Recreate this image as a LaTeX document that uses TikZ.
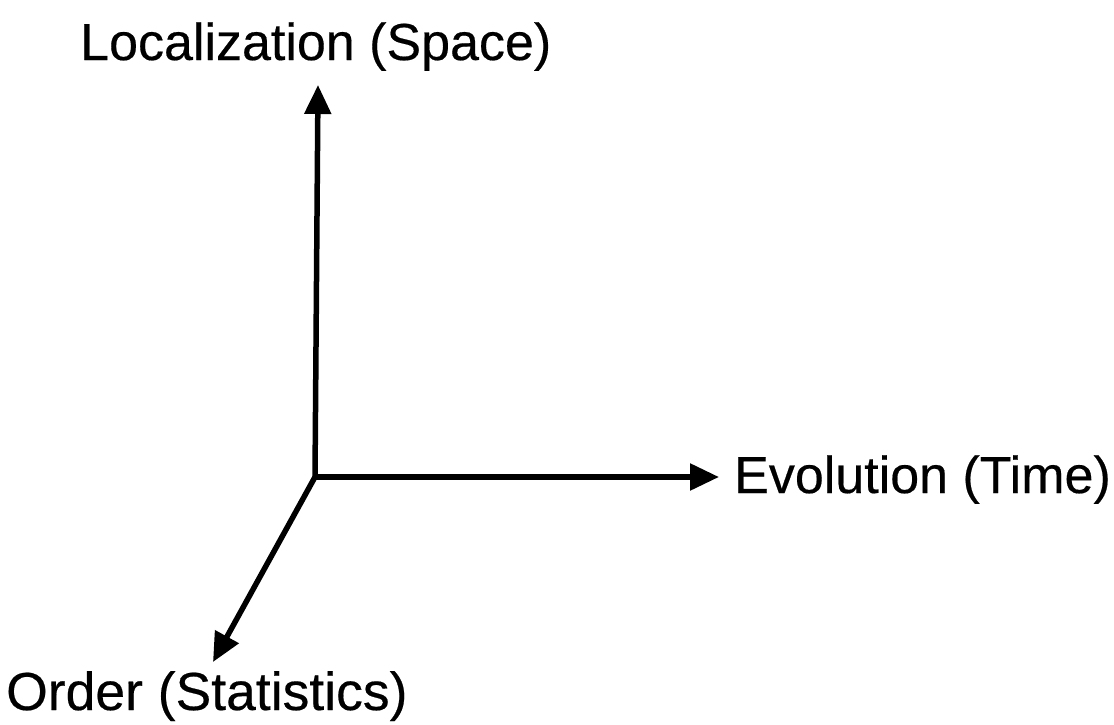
\documentclass[tikz,border=0pt]{standalone}
\usepackage{fontspec}
\setmainfont{Liberation Sans}
\newfontfamily\lblfont{Liberation Sans}[RawFeature={embolden=0.35}]
\usetikzlibrary{arrows.meta}
\begin{document}
\begin{tikzpicture}[x=1pt,y=-1pt,
  axis/.style={line width=5.5pt,-{Triangle[length=29pt,width=26pt]}},
  lbl/.style={anchor=base west,inner sep=0pt,font=\lblfont\fontsize{52}{60}\selectfont}]
\useasboundingbox (0,0) rectangle (1114,725);
\coordinate (o) at (315,477);
\coordinate (up) at (318,85);
\coordinate (rt) at (719,477);
\coordinate (dl) at (213,662);
\draw[axis] (o) -- (up);
\draw[axis] (o) -- (rt);
\draw[axis] (o) -- (dl);
\node[lbl] (space) at (80,60) {Localization (Space)};
\node[lbl] (time) at (734,493) {Evolution (Time)};
\node[lbl,font=\lblfont\fontsize{53.5}{60}\selectfont] (order) at (6,710) {Order (Statistics)};
\end{tikzpicture}
\end{document}
